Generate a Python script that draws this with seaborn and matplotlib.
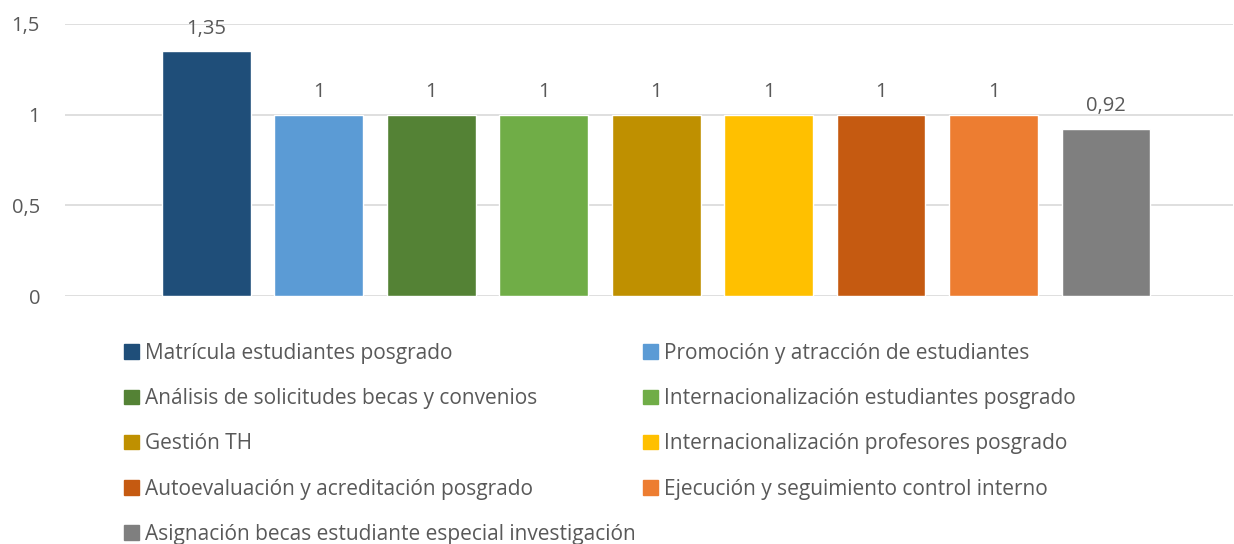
import matplotlib
matplotlib.use("Agg")
import matplotlib.pyplot as plt
import matplotlib.patches as mpatches
import pandas as pd
import seaborn as sns

categories = [
    "Matrícula estudiantes posgrado",
    "Promoción y atracción de estudiantes",
    "Análisis de solicitudes becas y convenios",
    "Internacionalización estudiantes posgrado",
    "Gestión TH",
    "Internacionalización profesores posgrado",
    "Autoevaluación y acreditación posgrado",
    "Ejecución y seguimiento control interno",
    "Asignación becas estudiante especial investigación",
]
values = [1.35, 1, 1, 1, 1, 1, 1, 1, 0.92]
value_labels = ["1,35", "1", "1", "1", "1", "1", "1", "1", "0,92"]
colors = ["#1F4E79", "#5B9BD5", "#548235", "#70AD47", "#BF9000",
          "#FFC000", "#C55A11", "#ED7D31", "#7F7F7F"]
y_ticks = [0, 0.5, 1, 1.5]
y_tick_labels = ["0", "0,5", "1", "1,5"]

sns.set_theme(style="white")
plt.rcParams["font.family"] = ["Open Sans", "DejaVu Sans"]
text_color = "#595959"

df = pd.DataFrame({"categoria": categories, "valor": values})

W, H = 1234, 544
fig = plt.figure(figsize=(W / 100, H / 100), dpi=100)
ax = fig.add_axes([65 / W, 1 - 296 / H, (1233 - 65) / W, (296 - 24) / H])

sns.barplot(data=df, x="categoria", y="valor", hue="categoria", palette=colors,
            dodge=False, legend=False, width=0.79, saturation=1, ax=ax, zorder=3)

# etiquetas de datos
for i, (v, lab) in enumerate(zip(values, value_labels)):
    ax.text(i, v + 0.07, lab, ha="center", va="bottom", fontsize=14.5, color=text_color)

ax.set_xlim(-1.257, 9.13)
ax.set_ylim(0, 1.5)
ax.set_yticks(y_ticks)
ax.set_yticklabels(y_tick_labels, fontsize=14.5, color=text_color)
ax.set_xticks([])
ax.set_xlabel("")
ax.set_ylabel("")
ax.yaxis.grid(True, color="#D9D9D9", linewidth=1.2, zorder=0)
ax.tick_params(axis="y", length=0, pad=18)
for s in ax.spines.values():
    s.set_visible(False)

# leyenda en dos columnas (orden por filas)
handles = [mpatches.Patch(color=c, label=l) for c, l in zip(colors, categories)]
left_col = handles[0::2]
right_col = handles[1::2]
common = dict(frameon=False, fontsize=15, labelcolor=text_color, handlelength=0.7,
              handleheight=0.7, handletextpad=0.3, labelspacing=1.16,
              borderaxespad=0, borderpad=0, loc="upper left")
fig.legend(handles=left_col, bbox_to_anchor=(124 / W, 1 - 343 / H), **common)
fig.legend(handles=right_col, bbox_to_anchor=(643 / W, 1 - 343 / H), **common)

fig.savefig("out.png", dpi=100)
